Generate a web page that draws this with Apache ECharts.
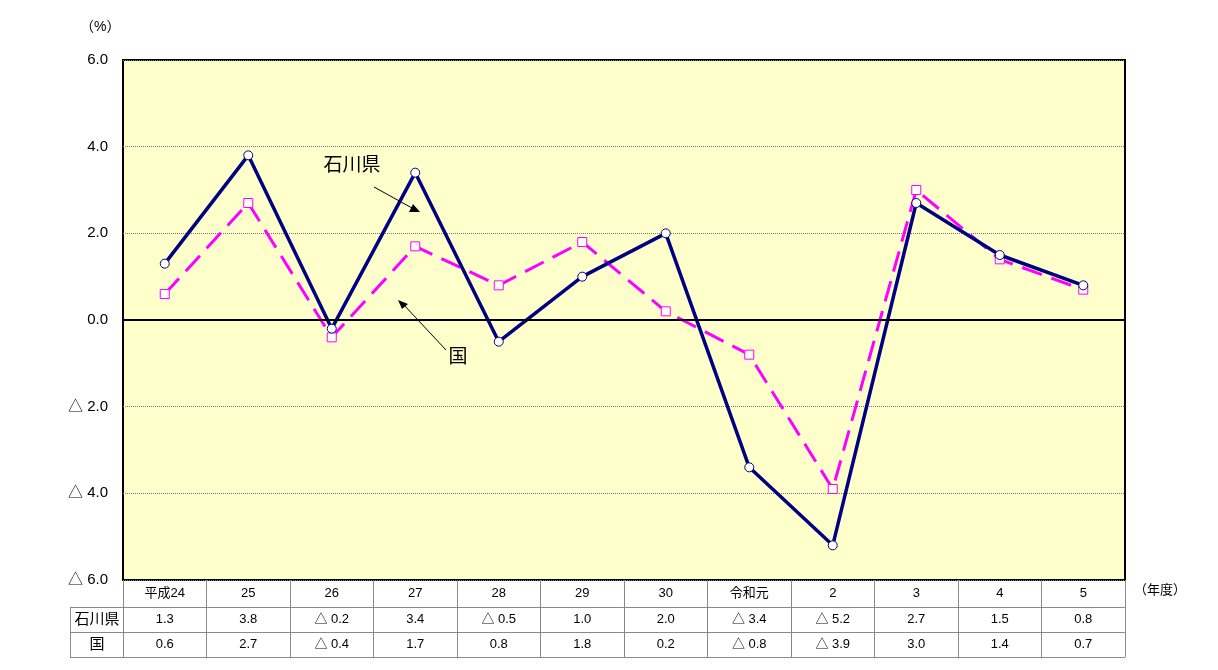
<!DOCTYPE html>
<html><head><meta charset="utf-8">
<script src="https://cdn.jsdelivr.net/npm/echarts@6/dist/echarts.min.js"></script>
<style>html,body{margin:0;padding:0;background:#fff}#c{width:1218px;height:670px}</style>
</head><body><div id="c"></div>
<script>
var categories = ['平成24','25','26','27','28','29','30','令和元','2','3','4','5'];
var ishikawa = [1.3, 3.8, -0.2, 3.4, -0.5, 1.0, 2.0, -3.4, -5.2, 2.7, 1.5, 0.8];
var kuni = [0.6, 2.7, -0.4, 1.7, 0.8, 1.8, 0.2, -0.8, -3.9, 3.0, 1.4, 0.7];
var seriesNames = ['石川県', '国'];
var yMin = -6, yMax = 6, yInterval = 2;

var FONT = '"Liberation Sans", "Noto Sans CJK JP", sans-serif';
function fmt(v){ return v < 0 ? '△ ' + Math.abs(v).toFixed(1) : v.toFixed(1); }

var chart = echarts.init(document.getElementById('c'));
var GL = 123, GR = 1125, GT = 60, GB = 580;
var gray = '#8a8a8a';

function valueAxis(vals, offset){
  return {
    type: 'category', data: vals.map(fmt), position: 'bottom', offset: offset,
    boundaryGap: true,
    axisLine: { show: true, onZero: false, lineStyle: { color: gray, width: 1 } },
    axisTick: { show: false },
    axisLabel: { color: '#000', fontSize: 13, fontFamily: FONT, margin: 6, interval: 0 },
    splitLine: { show: false }
  };
}

chart.setOption({
  animation: false,
  backgroundColor: '#fff',
  grid: { left: GL, right: 1218 - GR, top: GT, bottom: 670 - GB, show: true,
          backgroundColor: '#FFFFCC', borderColor: '#000', borderWidth: 2 },
  xAxis: [
    { type: 'category', data: categories, position: 'bottom', boundaryGap: true,
      axisLine: { show: false, onZero: false },
      axisTick: { show: true, length: 77, interval: 0, lineStyle: { color: gray, width: 1 } },
      axisLabel: { color: '#000', fontSize: 13, fontFamily: FONT, margin: 7, interval: 0 },
      splitLine: { show: false } },
    valueAxis(ishikawa, 27),
    valueAxis(kuni, 52),
    { type: 'category', data: categories, position: 'bottom', offset: 77,
      axisLine: { show: true, onZero: false, lineStyle: { color: gray, width: 1 } },
      axisTick: { show: false }, axisLabel: { show: false } }
  ],
  yAxis: {
    type: 'value', min: yMin, max: yMax, interval: yInterval,
    axisLine: { show: false }, axisTick: { show: false },
    axisLabel: { color: '#000', fontSize: 15, fontFamily: FONT, margin: 15, formatter: fmt },
    splitLine: { show: true, lineStyle: { color: '#777', type: 'dotted', width: 1 } }
  },
  series: [
    { name: seriesNames[1], type: 'line', data: kuni, xAxisIndex: 0,
      symbol: 'rect', symbolSize: 9, showAllSymbol: true,
      lineStyle: { color: '#FF00FF', width: 3, type: [21, 10] },
      itemStyle: { color: '#fff', borderColor: '#FF00FF', borderWidth: 1 },
      z: 3,
      markLine: { silent: true, symbol: 'none', label: { show: false },
        lineStyle: { color: '#000', width: 2, type: 'solid' }, data: [{ yAxis: 0 }] } },
    { name: seriesNames[0], type: 'line', data: ishikawa, xAxisIndex: 0,
      symbol: 'circle', symbolSize: 9, showAllSymbol: true,
      lineStyle: { color: '#000080', width: 3.5 },
      itemStyle: { color: '#fff', borderColor: '#000080', borderWidth: 1 },
      z: 4 }
  ],
  graphic: [
    { type: 'text', left: 80, top: 20, style: { text: '（%）', fill: '#000', font: '14px ' + FONT } },
    { type: 'text', left: 1134, top: 584, style: { text: '（年度）', fill: '#000', font: '13px ' + FONT } },
    // row label column frame
    { type: 'line', shape: { x1: 70, y1: 607.5, x2: GL, y2: 607.5 }, style: { stroke: gray, lineWidth: 1 } },
    { type: 'line', shape: { x1: 70, y1: 632.5, x2: GL, y2: 632.5 }, style: { stroke: gray, lineWidth: 1 } },
    { type: 'line', shape: { x1: 70, y1: 657.5, x2: GL, y2: 657.5 }, style: { stroke: gray, lineWidth: 1 } },
    { type: 'line', shape: { x1: 70.5, y1: 607, x2: 70.5, y2: 658 }, style: { stroke: gray, lineWidth: 1 } },
    { type: 'text', x: 97, y: 620, style: { text: seriesNames[0], fill: '#000', font: '15px ' + FONT, textAlign: 'center', textVerticalAlign: 'middle' } },
    { type: 'text', x: 97, y: 645, style: { text: seriesNames[1], fill: '#000', font: '15px ' + FONT, textAlign: 'center', textVerticalAlign: 'middle' } },
    // annotations
    { type: 'text', x: 352, y: 166, z: 10, style: { text: seriesNames[0], fill: '#000', font: '19px ' + FONT, textAlign: 'center', textVerticalAlign: 'middle' } },
    { type: 'line', z: 10, shape: { x1: 374, y1: 187, x2: 412, y2: 208 }, style: { stroke: '#000', lineWidth: 1 } },
    { type: 'polygon', z: 10, shape: { points: [[420, 212], [409, 212], [413, 204]] }, style: { fill: '#000' } },
    { type: 'text', x: 458, y: 358, z: 10, style: { text: seriesNames[1], fill: '#000', font: '19px ' + FONT, textAlign: 'center', textVerticalAlign: 'middle' } },
    { type: 'line', z: 10, shape: { x1: 446, y1: 350, x2: 403, y2: 304 }, style: { stroke: '#000', lineWidth: 1 } },
    { type: 'polygon', z: 10, shape: { points: [[398, 300], [408, 304], [402, 309]] }, style: { fill: '#000' } }
  ]
});
</script></body></html>
